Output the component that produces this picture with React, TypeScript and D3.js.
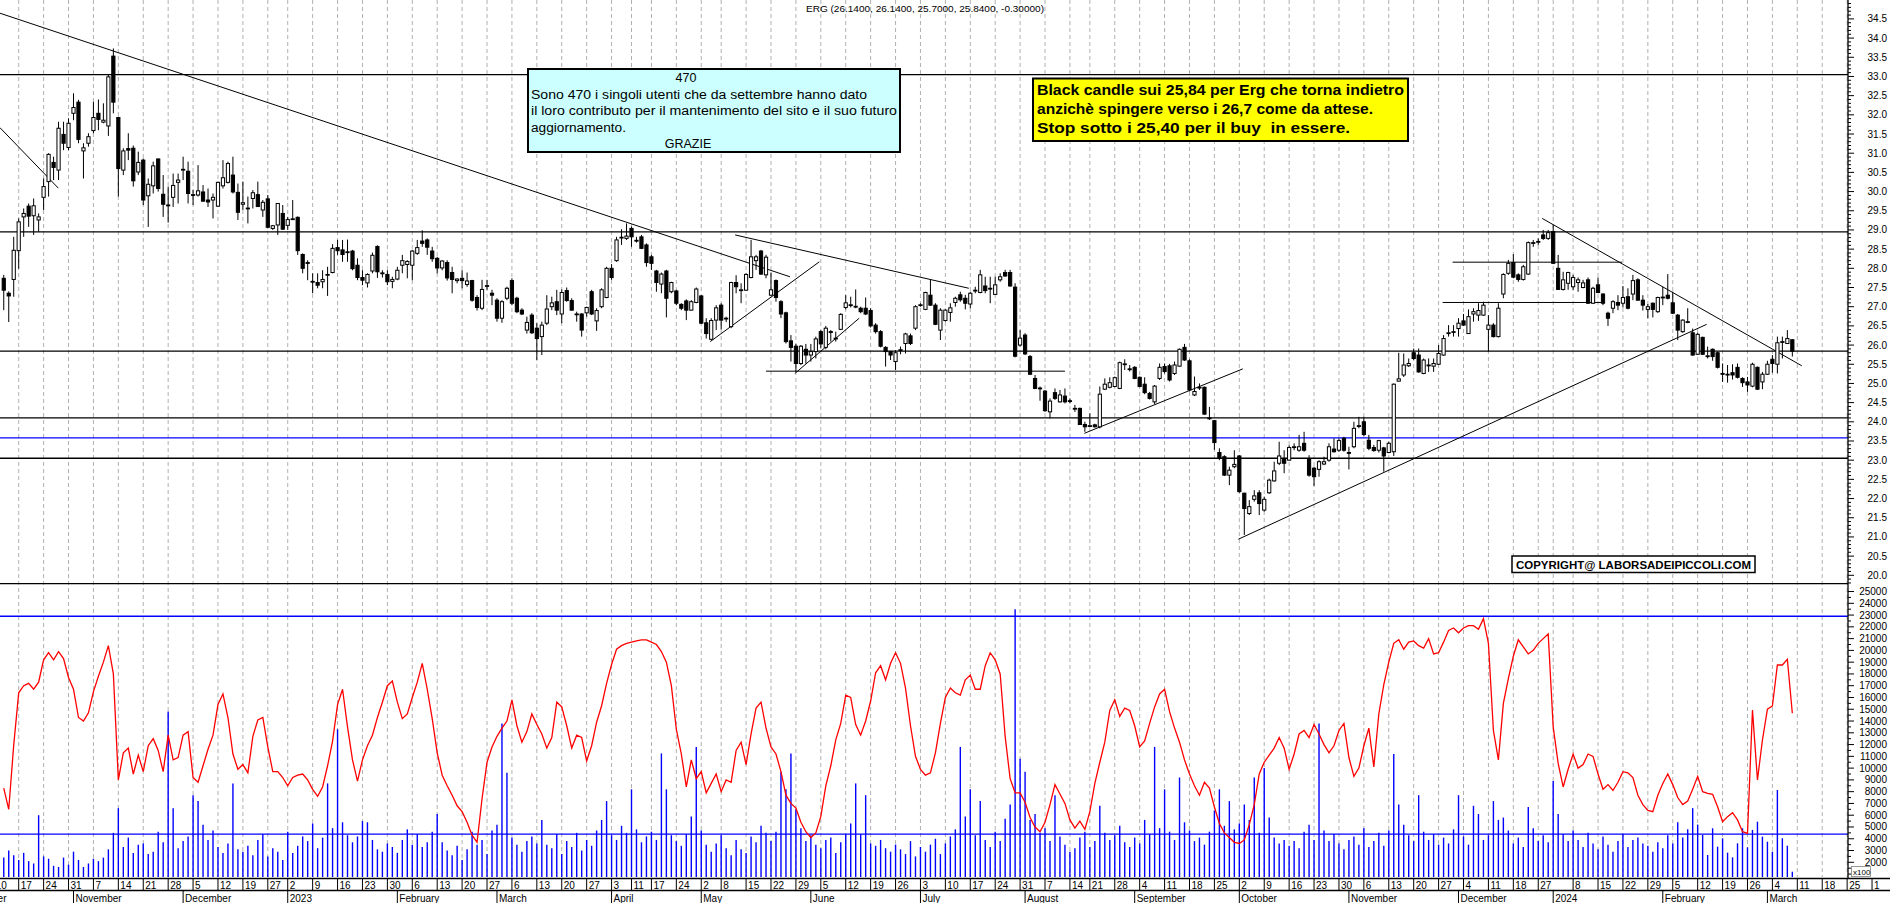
import * as d3 from 'd3'

// trading calendar (Borsa Italiana closing days are skipped on the x axis)
const calendarStart = '2022-10-03'
const calendarOffset = 5 // index of 2022-10-10 in the calendar above
const holidays = ['2022-12-26', '2023-04-07', '2023-04-10', '2023-05-01', '2023-08-15', '2023-12-25', '2023-12-26', '2024-01-01']
const firstCandle = 2 // trading-day index of the first candle (0 = 2022-10-10)
const monthNames = ['January', 'February', 'March', 'April', 'May', 'June', 'July', 'August', 'September', 'October', 'November', 'December']

// ERG daily candles
const opens = [
  27.74,27.35,27.71,28.46,29.34,29.62,29.37,29.26,29.85,30.26,
  30.76,30.56,31.49,31.15,32.04,32.33,31.06,31.26,31.59,32.04,
  31.81,31.71,33.53,31.93,30.56,31.12,31.13,30.51,30.82,29.89,
  30.15,30.85,29.93,29.65,29.85,30.24,30.56,30.53,29.92,29.91,
  29.99,29.78,29.78,29.62,30.15,30.24,30.43,29.98,29.67,29.56,
  29.82,29.92,29.52,29.81,29.04,29.13,29.43,29.12,29.28,29.33,
  28.36,28.15,27.66,27.63,27.65,27.83,27.89,28.54,28.48,28.43,
  28.45,28.08,27.76,27.62,27.93,28.57,27.88,27.84,27.66,27.72,
  28.08,28.10,28.08,28.39,28.71,28.74,28.45,28.26,28.01,28.15,
  27.89,27.68,27.74,27.58,27.68,27.24,26.96,27.54,27.35,27.17,
  26.70,27.22,27.68,27.22,26.91,26.39,26.78,26.44,26.22,26.57,
  27.00,27.13,26.81,27.42,27.16,26.81,26.81,26.84,27.39,26.63,
  27.00,27.24,28.00,28.20,28.80,28.78,29.04,28.73,28.82,28.61,
  28.30,27.93,27.59,27.93,27.39,27.41,27.06,27.15,26.91,27.11,
  27.28,26.58,26.15,26.65,27.04,26.70,26.48,27.63,27.43,27.43,
  27.76,28.20,28.45,27.83,27.30,27.68,27.13,26.84,26.11,25.97,
  25.52,25.89,25.74,25.83,26.35,25.94,26.35,26.17,26.41,26.98,
  27.04,27.00,26.96,26.96,26.90,26.52,26.35,25.94,25.83,25.57,
  25.87,26.04,26.24,26.44,27.04,26.93,27.30,27.04,26.39,26.64,
  26.85,27.11,27.31,27.22,27.07,27.42,27.37,27.54,27.48,27.32,
  27.70,27.89,27.89,27.51,26.00,26.26,25.70,25.13,24.88,24.80,
  24.26,24.76,24.52,24.67,24.55,24.35,24.35,23.93,23.90,23.92,
  23.87,24.85,24.90,24.92,24.87,25.50,25.38,25.42,25.16,24.98,
  24.74,24.52,25.13,25.44,25.46,25.26,25.45,25.94,25.59,24.70,
  24.90,24.90,24.10,24.03,23.20,23.09,22.61,22.83,23.11,22.14,
  21.61,21.98,22.15,21.70,22.15,22.46,22.92,23.02,23.00,23.35,
  23.26,23.44,23.02,22.79,22.76,22.90,23.00,23.29,23.26,23.57,
  23.20,23.35,23.89,24.00,23.52,23.33,23.26,23.32,23.20,23.22,
  25.06,25.22,25.46,25.80,25.74,25.26,25.48,25.45,25.50,25.74,
  26.32,26.34,26.43,26.63,26.30,26.81,26.78,26.78,26.41,26.52,
  26.22,27.33,27.87,28.15,27.83,27.71,27.85,28.67,28.69,28.87,
  28.78,28.96,28.00,27.45,27.61,27.52,27.63,27.50,27.70,27.09,
  27.57,27.33,26.83,26.96,27.11,27.09,27.26,27.33,27.70,27.17,
  26.93,27.09,26.87,27.24,27.30,27.10,26.78,26.35,26.61,26.32,
  25.76,26.20,25.72,25.89,25.80,25.26,25.24,25.28,25.42,25.13,
  25.04,24.93,25.42,25.04,25.24,25.63,25.50,26.08,26.04,26.14,
]
const highs = [
  27.83,27.40,28.82,29.30,29.56,29.69,29.82,29.43,30.34,31.00,
  30.91,31.82,31.82,31.91,32.56,32.39,31.26,31.52,32.34,32.40,
  32.30,33.04,33.73,31.95,31.13,31.52,31.20,31.04,30.86,30.34,
  30.78,30.86,30.43,30.13,30.47,30.47,30.91,30.78,30.04,30.69,
  30.17,30.08,29.95,30.26,30.82,30.78,30.91,30.21,30.26,29.87,
  30.04,30.26,29.78,29.91,29.13,29.69,29.65,29.34,29.78,29.35,
  28.39,28.21,27.87,27.87,27.95,28.04,28.63,28.74,28.74,28.75,
  28.48,28.26,27.95,27.87,28.41,28.60,27.95,27.95,27.78,28.04,
  28.35,28.21,28.48,28.74,28.99,28.78,28.56,28.30,28.21,28.21,
  28.04,27.74,27.95,27.89,27.70,27.30,27.70,27.70,27.44,27.22,
  27.17,27.52,27.74,27.26,26.96,26.74,26.83,26.57,26.61,27.30,
  27.26,27.44,27.45,27.50,27.22,26.87,26.83,27.00,27.44,26.96,
  27.48,28.04,28.11,28.82,29.02,29.17,29.09,28.82,28.87,28.65,
  28.35,27.96,27.89,27.96,27.65,27.44,27.09,27.19,27.17,27.50,
  27.30,26.70,26.70,27.04,27.09,26.74,27.65,27.82,27.61,27.87,
  28.74,28.35,28.48,28.35,27.89,27.71,27.17,26.87,26.26,26.03,
  26.00,26.03,26.03,26.22,26.39,26.50,26.39,26.35,26.83,27.30,
  27.26,27.45,27.00,27.24,26.96,26.57,26.39,25.97,25.85,25.87,
  25.96,26.32,26.30,27.04,27.09,27.39,27.70,27.09,26.96,26.93,
  27.09,27.26,27.39,27.31,27.39,27.52,27.96,27.78,27.78,27.78,
  27.87,27.96,27.96,27.61,26.39,26.31,25.74,25.22,24.92,24.83,
  24.61,24.87,24.83,24.87,24.61,24.44,24.37,24.00,24.22,23.95,
  24.92,25.13,25.16,25.18,25.57,25.63,25.48,25.45,25.18,25.16,
  24.78,24.96,25.52,25.52,25.51,25.57,25.91,26.03,25.63,25.18,
  25.00,24.92,24.39,24.05,23.31,23.13,22.83,23.26,23.13,22.15,
  21.96,22.22,22.22,22.05,22.52,22.96,23.48,23.26,23.39,23.44,
  23.66,23.74,23.13,22.83,23.00,23.09,23.44,23.57,23.57,23.61,
  23.35,24.00,24.13,24.13,23.66,23.40,23.53,23.35,23.48,25.00,
  25.80,25.78,25.65,25.91,25.91,25.65,25.65,25.65,26.00,26.26,
  26.52,26.52,26.70,26.81,26.93,26.96,27.09,27.13,26.78,26.57,
  27.09,27.87,28.22,28.37,27.87,28.09,28.70,28.74,28.78,29.00,
  29.00,29.13,28.35,27.91,27.91,27.83,27.76,27.70,27.76,27.52,
  27.76,27.35,26.87,27.17,27.30,27.54,27.48,27.83,27.74,27.30,
  27.07,27.11,27.26,27.52,27.85,27.39,26.81,26.67,26.96,26.43,
  26.32,26.22,25.96,25.91,25.83,25.52,25.48,25.50,25.52,25.16,
  25.17,25.54,25.44,25.30,25.59,25.74,26.22,26.22,26.39,26.14,
]
const lows = [
  26.91,26.60,27.26,27.99,28.82,29.08,28.87,28.95,29.52,29.87,
  30.30,30.30,31.08,31.08,31.86,31.26,30.34,31.17,31.52,31.60,
  31.78,31.45,32.04,29.87,30.43,30.82,30.13,30.43,29.65,29.08,
  29.95,30.00,29.34,29.19,29.60,29.69,30.30,29.69,29.65,29.87,
  29.74,29.60,29.30,29.60,30.08,30.21,29.95,29.26,29.52,29.17,
  29.56,29.60,29.34,29.04,29.00,28.87,29.00,29.00,29.26,28.35,
  27.87,27.69,27.35,27.48,27.48,27.28,27.87,28.35,28.17,28.17,
  27.95,27.69,27.56,27.50,27.87,27.75,27.76,27.56,27.48,27.69,
  27.87,27.74,27.69,28.35,28.56,28.35,28.17,27.87,27.95,27.68,
  27.35,27.61,27.48,27.52,27.13,26.90,26.91,27.44,27.04,26.61,
  26.58,27.17,27.04,26.83,26.78,26.30,26.29,25.61,25.74,26.52,
  26.91,26.78,26.57,27.13,26.90,26.61,26.22,26.74,26.78,26.37,
  26.96,27.22,27.70,28.17,28.61,28.74,28.56,28.67,28.50,28.04,
  27.96,27.39,27.35,26.72,27.35,27.04,26.91,26.65,26.90,27.09,
  26.55,26.17,26.13,26.39,26.41,26.60,26.44,27.35,27.09,27.42,
  27.74,27.96,27.83,27.74,27.28,27.13,26.70,26.04,25.57,25.30,
  25.48,25.52,25.57,25.65,25.91,25.89,26.09,26.09,26.39,26.93,
  26.98,26.96,26.83,26.78,26.46,26.30,25.94,25.44,25.61,25.35,
  25.76,25.78,26.00,26.39,27.00,26.91,27.02,26.52,26.13,26.61,
  26.61,27.00,27.13,26.93,26.96,27.35,27.35,27.35,27.09,27.31,
  27.65,27.78,27.52,25.68,25.96,25.74,25.22,24.85,24.55,24.26,
  24.09,24.57,24.50,24.48,24.48,24.26,23.92,23.74,23.87,23.85,
  23.83,24.83,24.87,24.90,24.85,25.35,25.31,25.11,24.90,24.72,
  24.58,24.46,25.09,25.26,25.05,25.22,25.44,25.59,24.79,24.67,
  24.83,24.18,24.05,23.27,23.00,22.59,22.35,22.79,22.15,21.05,
  21.57,21.92,21.57,21.66,22.12,22.44,22.87,22.66,22.99,23.26,
  23.22,23.22,22.57,22.33,22.57,22.87,22.96,23.20,23.22,23.22,
  22.76,23.31,23.83,23.63,23.26,23.22,23.20,22.70,23.18,23.11,
  25.05,25.17,25.43,25.61,25.28,25.24,25.30,25.30,25.48,25.72,
  26.22,26.22,26.22,26.50,26.29,26.61,26.63,26.76,25.83,26.20,
  26.20,27.22,27.83,27.74,27.65,27.68,27.83,28.56,28.61,28.74,
  28.74,28.11,27.44,27.42,27.44,27.44,27.39,27.48,27.07,27.07,
  27.35,27.04,26.50,26.83,26.91,26.98,26.93,27.17,27.16,26.90,
  26.70,26.72,26.84,27.04,27.19,26.81,26.13,26.32,26.57,25.72,
  25.74,25.74,25.65,25.59,25.39,25.04,25.02,25.10,25.13,24.91,
  24.78,24.90,24.83,24.85,25.22,25.28,25.26,25.65,26.03,25.70,
]
const closes = [
  27.43,27.28,28.47,29.21,29.43,29.36,29.63,29.34,30.13,30.97,
  30.63,31.65,31.26,31.78,32.19,31.36,31.14,31.43,31.93,31.88,
  31.86,32.99,32.33,30.60,31.06,31.08,30.28,30.76,29.78,30.19,
  30.67,30.08,29.67,29.63,30.16,30.30,30.58,29.95,29.91,30.02,
  29.75,29.73,29.85,30.24,30.36,30.73,29.99,29.46,29.71,29.57,
  29.97,29.61,29.72,29.07,29.11,29.69,29.02,29.27,29.29,28.46,
  28.00,28.14,27.65,27.56,27.71,27.84,28.52,28.46,28.36,28.42,
  27.99,27.76,27.69,27.84,28.34,27.91,27.87,27.65,27.71,27.95,
  28.20,28.18,28.45,28.54,28.65,28.55,28.25,28.01,28.19,27.75,
  27.71,27.72,27.68,27.67,27.17,26.98,27.45,27.55,27.30,26.70,
  27.13,27.48,27.09,26.87,26.81,26.59,26.32,26.17,26.52,26.94,
  27.10,26.91,27.37,27.16,26.91,26.80,26.39,26.98,26.81,26.90,
  27.44,28.00,27.76,28.74,28.81,28.84,28.82,28.72,28.52,28.15,
  28.13,27.63,27.85,27.22,27.63,27.09,26.96,26.91,27.13,27.46,
  26.57,26.30,26.64,26.97,26.65,26.69,27.63,27.52,27.44,27.84,
  28.30,28.30,27.85,28.29,27.44,27.24,26.81,26.09,25.94,25.52,
  25.97,25.74,25.83,26.16,26.03,26.44,26.34,26.18,26.80,27.10,
  27.05,27.01,26.87,26.81,26.50,26.35,25.97,25.83,25.74,25.80,
  25.88,26.29,26.04,27.00,27.05,27.37,27.04,26.54,26.91,26.91,
  26.97,27.22,27.18,27.09,27.35,27.43,27.83,27.42,27.47,27.57,
  27.78,27.80,27.54,25.71,26.18,25.77,25.24,24.87,24.87,24.29,
  24.54,24.61,24.70,24.52,24.54,24.35,23.93,23.87,23.90,23.87,
  24.72,24.98,25.02,25.15,25.54,25.51,25.37,25.13,24.92,24.76,
  24.61,24.93,25.42,25.31,25.09,25.48,25.89,25.61,24.83,24.79,
  24.90,24.20,24.09,23.46,23.05,22.61,22.74,22.89,22.18,21.74,
  21.79,22.07,21.87,21.98,22.48,22.72,23.11,22.92,23.33,23.35,
  23.35,23.26,22.61,22.57,22.96,22.96,23.35,23.22,23.51,23.26,
  23.19,23.83,23.90,23.67,23.31,23.25,23.51,23.11,23.44,24.98,
  25.12,25.48,25.52,25.65,25.30,25.61,25.48,25.52,25.78,26.17,
  26.32,26.35,26.57,26.52,26.74,26.87,26.90,27.04,26.52,26.22,
  26.96,27.84,28.13,27.77,27.71,28.04,28.67,28.67,28.70,28.78,
  28.93,28.13,27.45,27.70,27.89,27.76,27.70,27.62,27.09,27.48,
  27.37,27.09,26.70,27.13,27.04,27.24,26.96,27.68,27.17,27.04,
  27.00,26.93,27.24,27.25,27.22,26.83,26.39,26.65,26.61,25.74,
  26.28,25.76,25.72,25.70,25.42,25.25,25.24,25.22,25.16,25.02,
  24.96,25.50,24.85,25.24,25.50,25.52,26.06,26.09,26.17,25.84,
]

// lower panel (values x100): red indicator line and volume bars, one per candle
const redLine = [
  8300,6500,11950,16400,17000,17200,16700,17300,19200,19800,
  19200,19900,19300,17700,16700,14300,14000,14700,16500,17800,
  19000,20400,18000,9000,11300,11700,9500,11100,9700,11900,
  12500,11500,9700,12800,10700,10900,12800,13100,9200,8800,
  10200,11600,12800,15400,16300,14300,11200,9900,10300,9600,
  12700,14100,14300,11800,9700,9700,9200,8500,9200,9400,
  9500,9000,8200,7600,8400,10200,12300,15400,16700,13500,
  10700,8900,10700,11900,12800,14300,15600,17000,17400,15600,
  14200,14600,16000,17300,18900,16700,14200,11300,9400,8500,
  7700,6800,6300,5400,4300,3700,7400,10500,11800,12700,
  13400,14000,15800,13600,12200,13100,14600,13700,12900,11700,
  12600,15600,15200,13600,11700,12800,12600,10600,11900,13900,
  15300,17200,18800,20100,20400,20600,20700,20800,20900,20900,
  20700,20500,19900,19000,17000,13300,11200,8400,10700,9100,
  9700,7900,8700,9500,8000,9000,8800,11500,12200,10300,
  12900,15100,15600,13400,11800,11200,9700,7700,7000,6600,
  5400,4600,4100,4500,5900,8500,10200,12400,13800,16200,
  16000,13700,12800,14000,15700,18100,18700,17500,18900,19800,
  18900,16800,13600,11000,9900,9400,9600,11300,13800,16000,
  16800,16400,16200,17500,17900,16700,16700,18700,19800,19200,
  18000,12700,9100,7900,7900,7100,5800,5000,4600,5400,
  6900,8600,7800,7000,5600,4900,5500,4800,6300,8700,
  10500,12200,14900,15800,14400,15100,14900,13600,11800,12300,
  13800,15200,16300,16700,14800,13400,12200,10700,9500,8500,
  7700,8800,8300,6700,5300,4500,4100,3700,3600,3900,
  5200,6900,9500,10500,11100,11700,12600,11700,9900,11200,
  12900,13200,12600,13700,12900,12000,11300,11900,13200,13800,
  10900,9300,10000,11900,13400,10100,14600,17100,19000,20600,
  20900,20100,20700,20800,20400,20200,21000,19700,19800,20700,
  21700,21900,21500,21900,22100,22100,21800,22700,20600,13200,
  10700,15500,17600,19500,20900,20300,19700,20000,20600,21000,
  21400,13500,10400,8400,9900,11200,10000,10300,11200,11000,
  9500,8200,8600,8100,8800,9700,9600,9200,7700,6900,
  6400,6300,7700,8700,9500,8600,7500,6900,7200,8200,
  9300,8000,7860,7780,6720,5450,5880,6220,5600,4600,
  4460,14940,8990,12390,15000,15280,18760,18760,19250,14660,
]
const volumes = [
  2400,3000,2600,2200,2800,2100,1900,6000,2500,2300,
  1700,1600,2400,1800,2900,2200,1600,1900,2300,2100,
  2400,3100,4500,6600,3300,4100,2800,3500,3600,2700,
  2900,4600,3700,14800,6600,3200,3800,4200,7700,7200,
  5200,3900,4700,3300,2800,3600,8700,3100,2900,3400,
  2600,3900,4400,2500,3200,2900,2200,4600,2800,3400,
  4200,3800,5300,3200,4100,8700,4900,13300,5400,4300,
  3700,4200,5500,5400,3900,3100,2900,3600,3300,2800,
  3900,4800,3500,4400,3300,3700,4600,6100,3700,3000,
  2600,3400,2200,3100,4600,3500,3900,2700,4700,5200,
  13800,9600,4100,3500,2900,3800,4200,3600,5600,3500,
  3200,4400,2700,3800,3300,4500,3000,3900,3400,4700,
  5600,7200,4300,3900,5100,4500,8200,4800,3700,4200,
  4600,3900,11250,8200,4300,3800,3400,4400,5900,11800,
  4700,3500,2900,3600,4300,3200,2600,3900,3100,2800,
  4200,3700,5100,4500,3800,4600,9700,8200,11250,6500,
  4900,3800,4300,3500,3200,3900,4100,2800,3700,4400,
  5300,8700,4400,7700,3600,3400,3900,3200,2900,3500,
  3100,2700,3800,2500,3300,2900,3500,4000,2700,3600,
  4200,4800,11800,5900,8200,4300,7200,3900,3300,4600,
  3800,5700,6900,23500,10800,9700,5600,6100,4500,4900,
  3800,7700,4200,3500,2900,3200,4100,4600,3300,3800,
  6800,4500,3900,4300,5100,3700,3300,4100,3600,5600,
  4400,11800,4900,8200,4600,3900,9200,5400,4700,3800,
  4100,3500,4600,6400,8200,5100,7200,4800,5300,6900,
  5600,9200,4500,10000,5800,4100,3600,3900,3400,3800,
  3200,4600,5200,3900,13800,4700,3800,4400,3600,3100,
  3900,4200,3500,4900,3300,3800,4500,3400,4700,11200,
  6900,5200,4300,3800,7700,4600,3900,4400,3500,4100,
  3600,4800,7700,4200,3500,6800,6100,3900,4300,7200,
  5600,5800,4700,3600,4100,3300,6700,4900,3800,4300,
  3700,8900,6100,4400,3800,4700,3900,3300,4500,3600,
  3100,4200,3500,2900,3800,4400,3300,3900,4100,3600,
  3400,2900,3700,3200,4300,3600,5400,4100,4800,6600,
  5200,4320,2620,4890,3330,4040,2820,2420,3610,4890,
  3270,4750,5450,4180,3750,2900,8140,4040,3410,1200,
]

// price levels and trendlines [t0, price0, t1, price1]
const blackLevels = [33.05, 28.95, 25.84, 24.1, 23.05]
const blueLevel = 23.58
const volumeLevels = [22900, 4400]
const trendlines = [
  [1.2, 34.65, 159.8, 27.78],
  [1.2, 31.67, 12.95, 30.09],
  [148.8, 28.87, 195.7, 27.48],
  [143.8, 26.09, 165.7, 28.17],
  [160.8, 25.26, 173.7, 26.7],
  [155.0, 25.32, 215.0, 25.32],
  [218.9, 23.7, 250.7, 25.38],
  [249.8, 20.94, 343.8, 26.54],
  [292.8, 28.16, 326.8, 28.16],
  [290.8, 27.11, 323.1, 27.11],
  [310.8, 29.3, 362.9, 25.46],
]

const titleText = 'ERG (26.1400, 26.1400, 25.7000, 25.8400, -0.30000)'
const noteLines = [
  'Sono 470 i singoli utenti che da settembre hanno dato',
  'il loro contributo per il mantenimento del sito e il suo futuro',
  'aggiornamento.',
]
const commentLines = [
  'Black candle sui 25,84 per Erg che torna indietro',
  'anzichè spingere verso i 26,7 come da attese.',
  'Stop sotto i 25,40 per il buy  in essere.',
]
const copyrightText = 'COPYRIGHT@ LABORSADEIPICCOLI.COM'

const FONT = "'Liberation Sans', Arial, sans-serif"
const NARROW = "'Liberation Sans Narrow', 'Arial Narrow', 'Liberation Sans', sans-serif"

export default function App() {
  const W = 1890
  const H = 903
  const axisX = 1848
  const priceBottom = 583.7
  const volBottom = 877

  const x = d3.scaleLinear().domain([5, 357]).range([18.7, 1772.4])
  const yP = d3.scaleLinear().domain([20, 34.5]).range([575.3, 18.9])
  const yV = d3.scaleLinear().domain([2000, 24000]).range([862.3, 603.3])

  // trading calendar
  const fmt = d3.utcFormat('%Y-%m-%d')
  const days: Date[] = []
  let d = d3.utcParse('%Y-%m-%d')(calendarStart) as Date
  while (days.length < 385) {
    const wd = d.getUTCDay()
    if (wd !== 0 && wd !== 6 && !holidays.includes(fmt(d))) days.push(d)
    d = d3.utcDay.offset(d, 1)
  }
  const tOf = (i: number) => i - calendarOffset
  const weekStarts: number[] = []
  const monthStarts: { t: number; label: string }[] = []
  days.forEach((day, i) => {
    const prev = days[i - 1]
    if (!prev || day.getUTCDay() < prev.getUTCDay() || +day - +prev > 3 * 864e5) weekStarts.push(tOf(i))
    if (!prev || day.getUTCMonth() !== prev.getUTCMonth()) {
      const m = day.getUTCMonth()
      monthStarts.push({ t: tOf(i), label: m === 0 ? String(day.getUTCFullYear()) : monthNames[m] })
    }
  })
  const dayLabels: number[] = []
  weekStarts.forEach((t) => {
    if (!dayLabels.length || t - dayLabels[dayLabels.length - 1] >= 4) dayLabels.push(t)
  })
  const dayOf = (t: number) => days[t + calendarOffset]

  const candles = closes.map((c, k) => ({ t: k + firstCandle, o: opens[k], h: highs[k], l: lows[k], c }))
  const redPath = d3
    .line<number>()
    .x((_, k) => x(k + firstCandle))
    .y((v) => yV(v))(redLine)

  const priceTicks = d3.range(198, 350).map((v) => v / 10)
  const volTicks = d3.range(2, 51).map((v) => v * 500)

  return (
    <svg width={W} height={H} style={{ position: 'absolute', left: 0, top: 0, background: '#fff' }} fontFamily={FONT}>
      <defs>
        <clipPath id="plot">
          <rect x={0} y={0} width={axisX} height={volBottom} />
        </clipPath>
      </defs>
      <rect x={0} y={0} width={W} height={H} fill="#fff" />

      {/* weekly gridlines */}
      {weekStarts
        .filter((t) => x(t) > 0 && x(t) < axisX)
        .map((t) => (
          <line key={'g' + t} x1={x(t)} x2={x(t)} y1={0} y2={volBottom} stroke="#b0b0b0" strokeDasharray="4,3" />
        ))}

      <g clipPath="url(#plot)">
        {/* horizontal levels */}
        {blackLevels.map((v) => (
          <line key={'lv' + v} x1={0} x2={axisX} y1={yP(v)} y2={yP(v)} stroke="#000" strokeWidth={1.3} />
        ))}
        <line x1={0} x2={axisX} y1={yP(blueLevel)} y2={yP(blueLevel)} stroke="#0000ff" strokeWidth={1.3} />

        {/* trendlines */}
        {trendlines.map(([t0, p0, t1, p1], i) => (
          <line key={'tl' + i} x1={x(t0)} y1={yP(p0)} x2={x(t1)} y2={yP(p1)} stroke="#000" strokeWidth={1} />
        ))}

        {/* candles */}
        {candles.map((k) => {
          const cx = x(k.t)
          const up = k.c >= k.o
          const top = yP(Math.max(k.o, k.c))
          const bot = yP(Math.min(k.o, k.c))
          return (
            <g key={'c' + k.t}>
              <line x1={cx} x2={cx} y1={yP(k.h)} y2={yP(k.l)} stroke="#000" strokeWidth={1} />
              <rect
                x={cx - 1.6}
                y={top}
                width={3.2}
                height={Math.max(bot - top, 0.8)}
                fill={up ? '#fff' : '#000'}
                stroke="#000"
                strokeWidth={1}
              />
            </g>
          )
        })}

        {/* lower panel */}
        {volumeLevels.map((v) => (
          <line key={'vl' + v} x1={0} x2={axisX} y1={yV(v)} y2={yV(v)} stroke="#0000ff" strokeWidth={1.3} />
        ))}
        {volumes.map((v, k) => (
          <line
            key={'v' + k}
            x1={x(k + firstCandle)}
            x2={x(k + firstCandle)}
            y1={Math.max(yV(v), priceBottom)}
            y2={volBottom}
            stroke="#0000ff"
            strokeWidth={1.4}
          />
        ))}
        <path d={redPath ?? ''} fill="none" stroke="#ff0000" strokeWidth={1.3} />
      </g>

      {/* panel borders */}
      <line x1={0} x2={axisX} y1={priceBottom} y2={priceBottom} stroke="#000" strokeWidth={1.3} />
      <line x1={0} x2={W} y1={878.5} y2={878.5} stroke="#000" strokeWidth={1.3} />
      <line x1={0} x2={W} y1={890.5} y2={890.5} stroke="#000" strokeWidth={1.3} />
      <line x1={axisX} x2={axisX} y1={0} y2={878.5} stroke="#000" strokeWidth={1.3} />

      {/* right price axis */}
      {priceTicks.map((v) => {
        const major = Math.round(v * 10) % 5 === 0
        return <line key={'pt' + v} x1={axisX} x2={axisX + (major ? 6 : 3)} y1={yP(v)} y2={yP(v)} stroke="#000" />
      })}
      {priceTicks
        .filter((v) => Math.round(v * 10) % 5 === 0 && v >= 20 && v <= 34.5)
        .map((v) => (
          <text key={'pl' + v} x={1887} y={yP(v) + 3.5} fontSize={10} textAnchor="end">
            {v.toFixed(1)}
          </text>
        ))}

      {/* right volume axis */}
      {volTicks.map((v) => (
        <line key={'vt' + v} x1={axisX} x2={axisX + (v % 1000 === 0 ? 6 : 3)} y1={yV(v)} y2={yV(v)} stroke="#000" />
      ))}
      {volTicks
        .filter((v) => v % 1000 === 0 && v >= 2000 && v <= 25000)
        .map((v) => (
          <text key={'vlb' + v} x={1887} y={yV(v) + 3.5} fontSize={10} textAnchor="end">
            {v}
          </text>
        ))}
      <rect x={1851.5} y={866.5} width={19} height={10} fill="#fff" stroke="#808080" strokeWidth={0.8} />
      <text x={1853} y={874.5} fontSize={8}>
        x100
      </text>

      {/* day row */}
      {dayLabels
        .filter((t) => x(t) > -12 && x(t) < W)
        .map((t) => (
          <g key={'dl' + t}>
            <line x1={x(t)} x2={x(t)} y1={878.5} y2={890.5} stroke="#000" />
            <text x={x(t) + 2} y={888.5} fontSize={10}>
              {dayOf(t).getUTCDate()}
            </text>
          </g>
        ))}
      {/* month row */}
      {monthStarts
        .filter((m) => x(m.t) > -60 && x(m.t) < axisX)
        .map((m) => (
          <g key={'ml' + m.t}>
            <line x1={x(m.t)} x2={x(m.t)} y1={890.5} y2={903} stroke="#000" />
            <text x={x(m.t) + 2} y={901.5} fontSize={10}>
              {m.label}
            </text>
          </g>
        ))}

      {/* title */}
      <text x={806} y={11.5} fontSize={9.5} textLength={238} lengthAdjust="spacingAndGlyphs">
        {titleText}
      </text>

      {/* cyan note */}
      <rect x={528} y={69} width={372} height={83} fill="#ccffff" stroke="#000" strokeWidth={2} />
      <text x={686} y={82} fontSize={12.5} fontFamily={NARROW} textAnchor="middle">
        470
      </text>
      {noteLines.map((s, i) => (
        <text
          key={'n' + i}
          x={531}
          y={98.5 + i * 16.8}
          fontSize={12.5}
          fontFamily={NARROW}
          textLength={[336, 366, 95][i]}
          lengthAdjust="spacingAndGlyphs"
        >
          {s}
        </text>
      ))}
      <text x={688} y={148} fontSize={12.5} fontFamily={NARROW} textAnchor="middle">
        GRAZIE
      </text>

      {/* yellow comment */}
      <rect x={1033} y={78.5} width={375} height={62.5} fill="#ffff00" stroke="#000" strokeWidth={2} />
      {commentLines.map((s, i) => (
        <text
          key={'cm' + i}
          x={1037}
          y={94.5 + i * 19.3}
          fontSize={15}
          fontWeight="bold"
          textLength={[367, 336, 313][i]}
          lengthAdjust="spacingAndGlyphs"
          style={{ whiteSpace: 'pre' }}
        >
          {s}
        </text>
      ))}

      {/* copyright */}
      <rect x={1512} y={556} width={243} height={16.5} fill="#fff" stroke="#000" strokeWidth={1.5} />
      <text x={1516} y={568.5} fontSize={11} fontWeight="bold" textLength={235} lengthAdjust="spacingAndGlyphs">
        {copyrightText}
      </text>
    </svg>
  )
}
